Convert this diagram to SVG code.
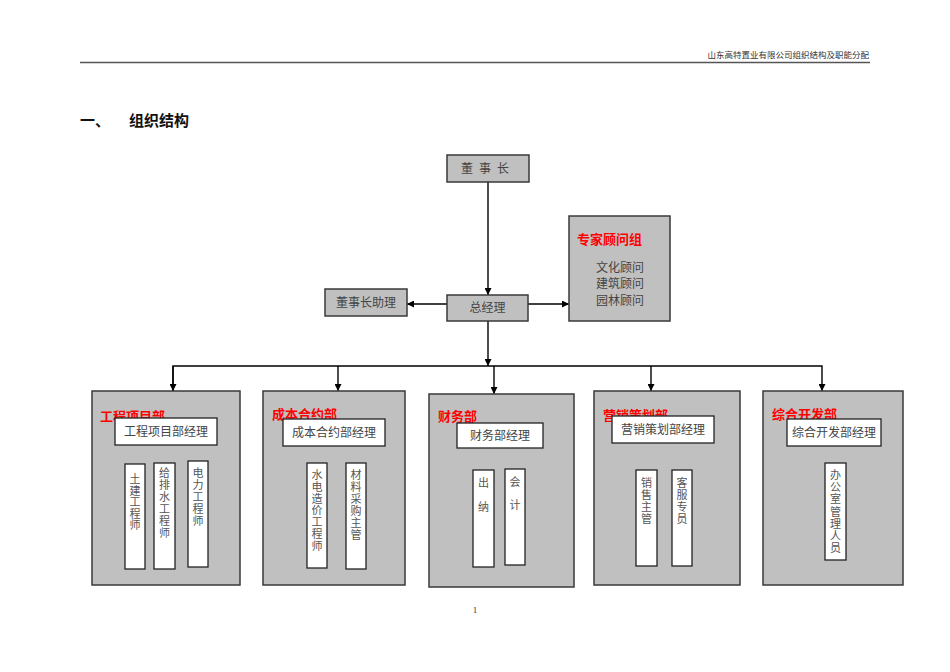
<svg xmlns="http://www.w3.org/2000/svg" width="950" height="672" viewBox="0 0 950 672">
<defs>
<marker id="arr" viewBox="0 0 10 10" refX="10" refY="5" markerWidth="7" markerHeight="7" markerUnits="userSpaceOnUse" orient="auto">
<path d="M0,0 L10,5 L0,10 z" fill="#000"/>
</marker>
<style>
.gbox{fill:#c0c0c0;stroke:#3a3a3a;stroke-width:1.5}
.wbox{fill:#fff;stroke:#222;stroke-width:1.3}
.t{font-family:"Liberation Serif","Noto Sans CJK SC",serif;font-size:12px;fill:#444}
.v{font-family:"Liberation Serif","Noto Sans CJK SC",serif;font-size:11px;fill:#555;text-anchor:middle}
.red{font-family:"Liberation Sans","Noto Sans CJK SC",sans-serif;font-size:13px;font-weight:bold;fill:#ff0000}
.c{fill:none;stroke:#000;stroke-width:1.4}
</style>
</defs>
<rect width="950" height="672" fill="#fff"/>
<g id="header">
<text x="869" y="58" text-anchor="end" font-family="Liberation Sans,'Noto Sans CJK SC',sans-serif" font-size="8.5" fill="#333">山东高特置业有限公司组织结构及职能分配</text>
<line x1="80" y1="62.5" x2="870" y2="62.5" stroke="#555" stroke-width="1.5"/>
</g>
<g id="title" font-family="Liberation Sans,'Noto Sans CJK SC',sans-serif" font-weight="bold" font-size="15" fill="#111">
<text x="80" y="126">一、</text>
<text x="129" y="126">组织结构</text>
</g>
<g id="connectors">
<line class="c" x1="488" y1="182" x2="488" y2="295" marker-end="url(#arr)"/>
<line class="c" x1="528" y1="304" x2="569" y2="304" marker-end="url(#arr)"/>
<line class="c" x1="447" y1="304" x2="407" y2="304" marker-end="url(#arr)"/>
<line class="c" x1="488" y1="321" x2="488" y2="366" marker-end="url(#arr)"/>
<polyline class="c" points="173,391 173,366 822,366 822,391" marker-end="url(#arr)"/>
<line class="c" x1="173" y1="366" x2="173" y2="391" marker-end="url(#arr)"/>
<line class="c" x1="338" y1="366" x2="338" y2="391" marker-end="url(#arr)"/>
<line class="c" x1="494" y1="366" x2="494" y2="394" marker-end="url(#arr)"/>
<line class="c" x1="651" y1="366" x2="651" y2="391" marker-end="url(#arr)"/>
</g>
<g id="chairman">
<rect class="gbox" x="447" y="155" width="82" height="27"/>
<text class="t" x="488" y="173" text-anchor="middle" letter-spacing="6">董事长</text>
</g>
<g id="gm">
<rect class="gbox" x="447" y="295" width="81" height="26"/>
<text class="t" x="487.5" y="312" text-anchor="middle">总经理</text>
</g>
<g id="assistant">
<rect class="gbox" x="325" y="289" width="82" height="27"/>
<text class="t" x="366" y="307" text-anchor="middle">董事长助理</text>
</g>
<g id="experts">
<rect class="gbox" x="569" y="216" width="101" height="105"/>
<text class="red" x="577" y="244" font-size="13.5">专家顾问组</text>
<text class="t" x="596" y="272">文化顾问</text>
<text class="t" x="596" y="288">建筑顾问</text>
<text class="t" x="596" y="305">园林顾问</text>
</g>
<g id="dept1">
<rect class="gbox" x="92" y="391" width="148" height="194"/>
<text class="red" x="100" y="421">工程项目部</text>
<rect class="wbox" x="115" y="418" width="102" height="27"/>
<text class="t" x="166" y="436" text-anchor="middle">工程项目部经理</text>
<rect class="wbox" x="125" y="464" width="20" height="105"/>
<text class="v" x="135" y="483"><tspan x="135">土</tspan><tspan x="135" dy="11.5">建</tspan><tspan x="135" dy="11.5">工</tspan><tspan x="135" dy="11.5">程</tspan><tspan x="135" dy="11.5">师</tspan></text>
<rect class="wbox" x="154" y="463" width="21" height="106"/>
<text class="v" x="164.5" y="477"><tspan x="164.5">给</tspan><tspan x="164.5" dy="12">排</tspan><tspan x="164.5" dy="12">水</tspan><tspan x="164.5" dy="12">工</tspan><tspan x="164.5" dy="12">程</tspan><tspan x="164.5" dy="12">师</tspan></text>
<rect class="wbox" x="188" y="461" width="20" height="106"/>
<text class="v" x="198" y="477"><tspan x="198">电</tspan><tspan x="198" dy="12">力</tspan><tspan x="198" dy="12">工</tspan><tspan x="198" dy="12">程</tspan><tspan x="198" dy="12">师</tspan></text>
</g>
<g id="dept2">
<rect class="gbox" x="263" y="391" width="142" height="194"/>
<text class="red" x="272" y="419">成本合约部</text>
<rect class="wbox" x="283" y="419" width="102" height="27"/>
<text class="t" x="334" y="437" text-anchor="middle">成本合约部经理</text>
<rect class="wbox" x="307" y="463" width="20" height="105"/>
<text class="v" x="317" y="479"><tspan x="317">水</tspan><tspan x="317" dy="11.8">电</tspan><tspan x="317" dy="11.8">造</tspan><tspan x="317" dy="11.8">价</tspan><tspan x="317" dy="11.8">工</tspan><tspan x="317" dy="11.8">程</tspan><tspan x="317" dy="11.8">师</tspan></text>
<rect class="wbox" x="346" y="463" width="20" height="106"/>
<text class="v" x="356" y="479"><tspan x="356">材</tspan><tspan x="356" dy="12">料</tspan><tspan x="356" dy="12">采</tspan><tspan x="356" dy="12">购</tspan><tspan x="356" dy="12">主</tspan><tspan x="356" dy="12">管</tspan></text>
</g>
<g id="dept3">
<rect class="gbox" x="429" y="394" width="145" height="193"/>
<text class="red" x="438" y="421">财务部</text>
<rect class="wbox" x="457" y="423" width="86" height="25"/>
<text class="t" x="500" y="440" text-anchor="middle">财务部经理</text>
<rect class="wbox" x="473" y="470" width="21" height="97"/>
<text class="v" x="483.5" y="487"><tspan x="483.5">出</tspan><tspan x="483.5" dy="24">纳</tspan></text>
<rect class="wbox" x="505" y="469" width="20" height="96"/>
<text class="v" x="515" y="486"><tspan x="515">会</tspan><tspan x="515" dy="23">计</tspan></text>
</g>
<g id="dept4">
<rect class="gbox" x="594" y="391" width="146" height="194"/>
<text class="red" x="603" y="420">营销策划部</text>
<rect class="wbox" x="612" y="416" width="102" height="27"/>
<text class="t" x="663" y="434" text-anchor="middle">营销策划部经理</text>
<rect class="wbox" x="636" y="470" width="21" height="96"/>
<text class="v" x="646.5" y="487"><tspan x="646.5">销</tspan><tspan x="646.5" dy="12">售</tspan><tspan x="646.5" dy="12">主</tspan><tspan x="646.5" dy="12">管</tspan></text>
<rect class="wbox" x="672" y="470" width="20" height="96"/>
<text class="v" x="682" y="487"><tspan x="682">客</tspan><tspan x="682" dy="12">服</tspan><tspan x="682" dy="12">专</tspan><tspan x="682" dy="12">员</tspan></text>
</g>
<g id="dept5">
<rect class="gbox" x="763" y="391" width="140" height="194"/>
<text class="red" x="772" y="419">综合开发部</text>
<rect class="wbox" x="787" y="419" width="94" height="27"/>
<text class="t" x="834" y="437" text-anchor="middle">综合开发部经理</text>
<rect class="wbox" x="825" y="463" width="21" height="97"/>
<text class="v" x="835.5" y="479"><tspan x="835.5">办</tspan><tspan x="835.5" dy="12.2">公</tspan><tspan x="835.5" dy="12.2">室</tspan><tspan x="835.5" dy="12.2">管</tspan><tspan x="835.5" dy="12.2">理</tspan><tspan x="835.5" dy="12.2">人</tspan><tspan x="835.5" dy="12.2">员</tspan></text>
</g>
<text x="475" y="613" text-anchor="middle" font-family="Liberation Serif,serif" font-size="9" fill="#333">1</text>
</svg>
